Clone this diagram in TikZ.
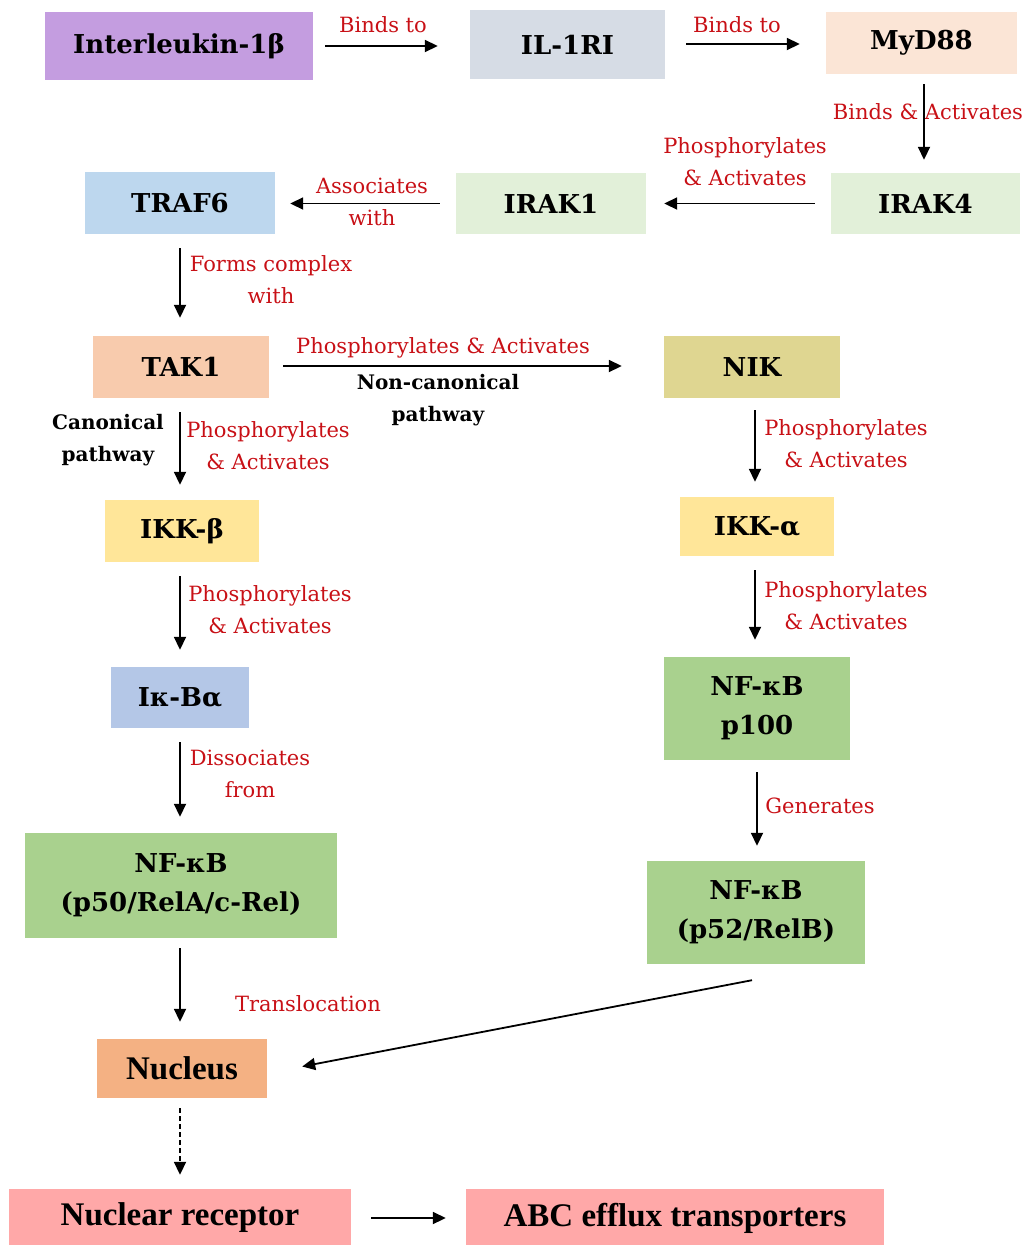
\documentclass[tikz,border=0pt]{standalone}
\usepackage{fontspec}
\setmainfont{DejaVu Serif}
\newfontfamily\narrowfont{Liberation Serif}
\usepackage{tikz}
\usetikzlibrary{arrows.meta,calc}
\definecolor{ilpurple}{RGB}{196,157,224}
\definecolor{rigray}{RGB}{214,220,229}
\definecolor{mdpeach}{RGB}{251,229,214}
\definecolor{irakgreen}{RGB}{226,240,217}
\definecolor{trafblue}{RGB}{189,215,238}
\definecolor{takorange}{RGB}{248,203,173}
\definecolor{nikkhaki}{RGB}{223,214,145}
\definecolor{ikkyellow}{RGB}{255,230,153}
\definecolor{ikbblue}{RGB}{180,199,231}
\definecolor{nfgreen}{RGB}{169,209,142}
\definecolor{nucorange}{RGB}{244,177,131}
\definecolor{recpink}{RGB}{255,168,168}
\definecolor{lblred}{RGB}{200,16,22}

\begin{document}
\begin{tikzpicture}[x=1pt, y=-1pt,
    box/.style={inner sep=0pt, align=center, font=\bfseries\fontsize{26}{39}\selectfont},
    lowbox/.style={inner sep=0pt, align=center, font=\narrowfont\bfseries\fontsize{33}{39}\selectfont},
    lbl/.style={inner sep=0pt, align=center, text=lblred, font=\fontsize{21}{32}\selectfont},
    path/.style={inner sep=0pt, align=center, font=\bfseries\fontsize{20}{32}\selectfont},
    flow/.style={line width=1.8pt, -{Triangle[length=13pt,width=12pt]}}]
    \useasboundingbox (0,0) rectangle (1031,1245);
    % receptor chain
    \node[box, fill=ilpurple, minimum width=268pt, minimum height=68pt] (il1b) at (179,46) {Interleukin-1β};
    \node[box, fill=rigray, minimum width=195pt, minimum height=69pt] (il1ri) at (567.5,44.5) {IL-1RI};
    \node[box, fill=mdpeach, minimum width=191pt, minimum height=62pt] (myd88) at (921.5,43) {MyD88};
    \node[box, fill=irakgreen, minimum width=189pt, minimum height=61pt] (irak4) at (925.5,203.5) {IRAK4};
    \node[box, fill=irakgreen, minimum width=190pt, minimum height=61pt] (irak1) at (551,203.5) {IRAK1};
    \node[box, fill=trafblue, minimum width=190pt, minimum height=62pt] (traf6) at (180,203) {TRAF6};
    \node[box, fill=takorange, minimum width=176pt, minimum height=62pt] (tak1) at (181,367) {TAK1};
    % canonical side
    \node[box, fill=ikkyellow, minimum width=154pt, minimum height=62pt] (ikkb) at (182,531) {IKK-β};
    \node[box, fill=ikbblue, minimum width=138pt, minimum height=61pt] (ikba) at (180,697.5) {Iκ-Bα};
    \node[box, fill=nfgreen, minimum width=312pt, minimum height=105pt] (nfkb1) at (181,885.5) {NF-κB\\(p50/RelA/c-Rel)};
    \node[lowbox, fill=nucorange, minimum width=170pt, minimum height=59pt] (nucleus) at (182,1068.5) {Nucleus};
    \node[lowbox, fill=recpink, minimum width=342pt, minimum height=58pt] (nucrec) at (180,1218) {Nuclear receptor};
    \node[lowbox, fill=recpink, minimum width=418pt, minimum height=58pt] (abc) at (675,1218) {ABC efflux transporters};
    % non-canonical side
    \node[box, fill=nikkhaki, minimum width=176pt, minimum height=62pt] (nik) at (752,367) {NIK};
    \node[box, fill=ikkyellow, minimum width=154pt, minimum height=59pt] (ikka) at (757,526.5) {IKK-α};
    \node[box, fill=nfgreen, minimum width=186pt, minimum height=103pt] (p100) at (757,708.5) {NF-κB\\p100};
    \node[box, fill=nfgreen, minimum width=218pt, minimum height=103pt] (p52) at (756,912.5) {NF-κB\\(p52/RelB)};

    % labels
    \node[lbl] (l1) at (383,25) {Binds to};
    \node[lbl] (l2) at (737,25) {Binds to};
    \node[lbl] (l3) at (928,112) {Binds \& Activates};
    \node[lbl] (l4) at (745,162) {Phosphorylates\\\& Activates};
    \node[lbl] (l5) at (372,202) {Associates\\with};
    \node[lbl] (l6) at (271,280) {Forms complex\\with};
    \node[lbl] (l7) at (443,348) {Phosphorylates \& Activates};
    \node[path] (noncanon) at (438,400) {Non-canonical\\pathway};
    \node[path] (canon) at (108,440) {Canonical\\pathway};
    \node[lbl] (l8) at (268,446) {Phosphorylates\\\& Activates};
    \node[lbl] (l9) at (270,610) {Phosphorylates\\\& Activates};
    \node[lbl] (l10) at (250,774) {Dissociates\\from};
    \node[lbl] (l11) at (308,1004) {Translocation};
    \node[lbl] (l12) at (846,444) {Phosphorylates\\\& Activates};
    \node[lbl] (l13) at (846,606) {Phosphorylates\\\& Activates};
    \node[lbl] (l14) at (820,806) {Generates};

    % arrows
    \draw[flow, shorten <=12pt, shorten >=32pt] (il1b.east) -- (il1b.east -| il1ri.west);
    \draw[flow, shorten <=21pt, shorten >=26pt] (il1ri.east |- 0,44) -- (myd88.west |- 0,44);
    \draw[flow, shorten <=10pt, shorten >=13pt] (myd88.south -| 924,0) -- (irak4.north -| 924,0);
    \draw[flow, shorten <=16pt, shorten >=18pt] (irak4.west) -- (irak4.west -| irak1.east);
    \draw[flow, shorten <=16pt, shorten >=15pt] (irak1.west) -- (irak1.west -| traf6.east);
    \draw[flow, shorten <=14pt, shorten >=18pt] (traf6.south) -- (traf6.south |- tak1.north);
    \draw[flow, shorten <=14pt, shorten >=42pt] (tak1.east |- 0,366) -- (nik.west |- 0,366);
    \draw[flow, shorten <=14pt, shorten >=15pt] (tak1.south -| 180,0) -- (ikkb.north -| 180,0);
    \draw[flow, shorten <=14pt, shorten >=17pt] (ikkb.south -| 180,0) -- (ikba.north -| 180,0);
    \draw[flow, shorten <=14pt, shorten >=16pt] (ikba.south) -- (ikba.south |- nfkb1.north);
    \draw[flow, shorten <=10pt, shorten >=17pt] (nfkb1.south -| 180,0) -- (nucleus.north -| 180,0);
    \draw[flow, dashed, dash pattern=on 5pt off 3pt, shorten <=10pt, shorten >=14pt] (nucleus.south -| 180,0) -- (nucrec.north -| 180,0);
    \draw[flow, shorten <=20pt, shorten >=20pt] (nucrec.east) -- (abc.west);
    \draw[flow, shorten <=12pt, shorten >=15pt] (nik.south -| 755,0) -- (ikka.north -| 755,0);
    \draw[flow, shorten <=14pt, shorten >=17pt] (ikka.south -| 755,0) -- (p100.north -| 755,0);
    \draw[flow, shorten <=12pt, shorten >=15pt] (p100.south) -- (p100.south |- p52.north);
    \draw[flow] ($(p52.south)+(-4,16)$) -- ($(nucleus.east)+(35,-2)$);
\end{tikzpicture}
\end{document}
